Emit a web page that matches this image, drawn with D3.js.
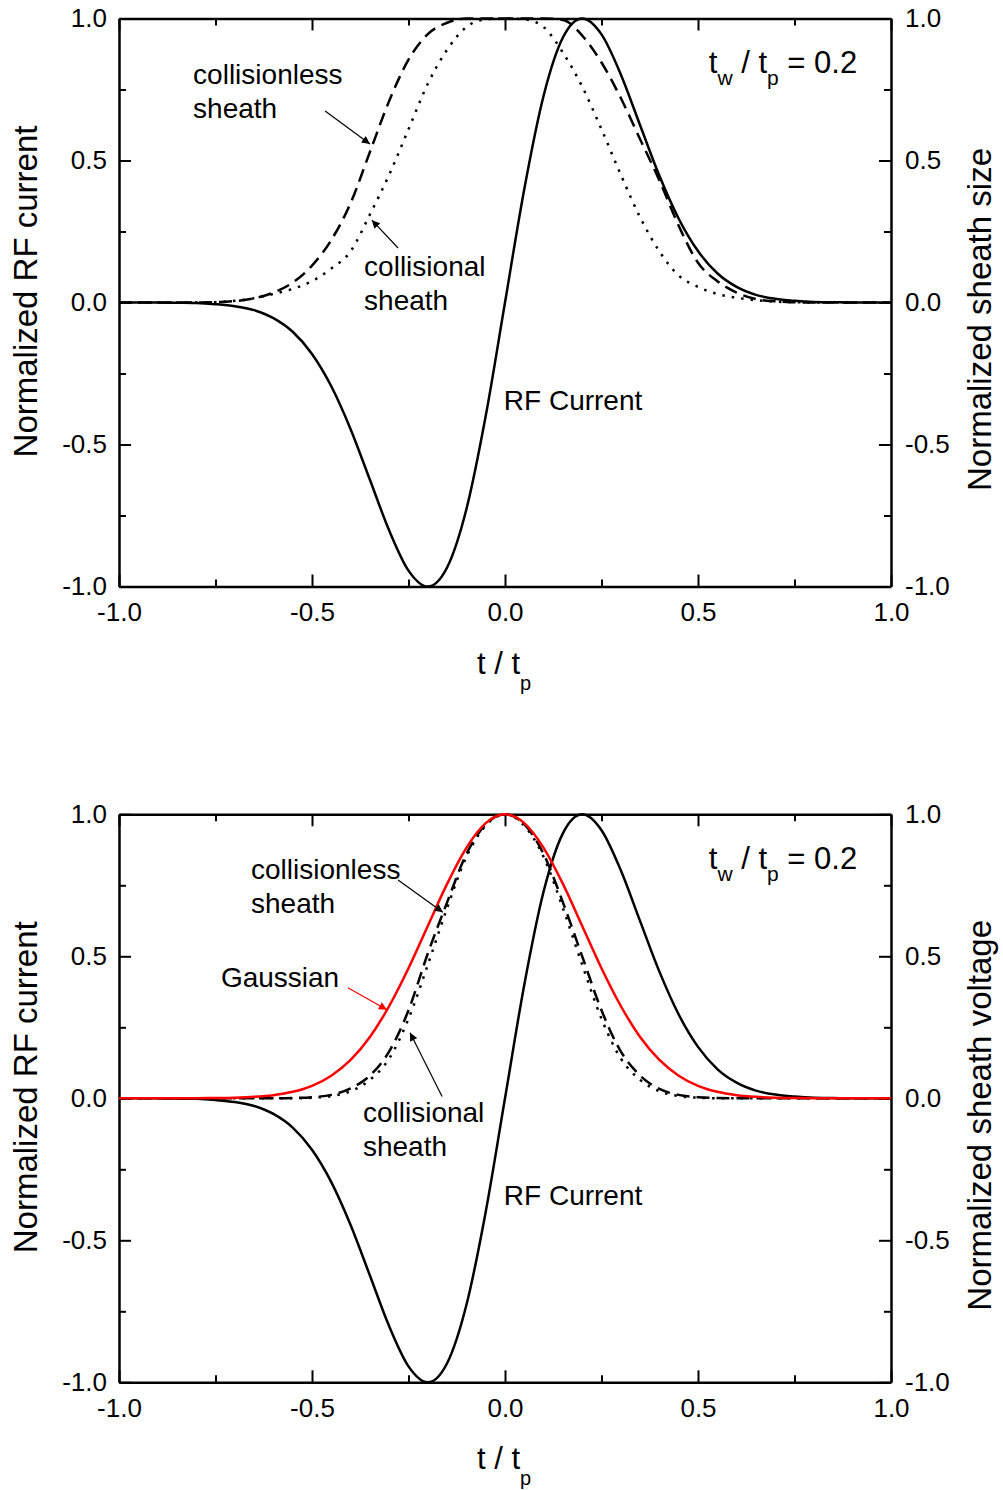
<!DOCTYPE html>
<html lang="en">
  <head>
    <meta charset="UTF-8" />
    <title>Normalized RF current and sheath response</title>
    <script src="https://d3js.org/d3.v7.min.js"></script>
    <style>
      body { margin: 0; background: #fff; }
      text { font-family: "Liberation Sans", Arial, sans-serif; fill: #000; }
    </style>
  </head>
  <body>
    <svg id="chart" width="1003" height="1490"></svg>
    <script>
      // t / tp sample points
      const tValues = [
        -1.0, -0.95, -0.9, -0.85, -0.8, -0.75, -0.7, -0.65, -0.6, -0.55, -0.5,
        -0.45, -0.4, -0.35, -0.3, -0.25, -0.2, -0.15, -0.1, -0.05, 0.0,
        0.05, 0.1, 0.15, 0.2, 0.25, 0.3, 0.35, 0.4, 0.45, 0.5,
        0.55, 0.6, 0.65, 0.7, 0.75, 0.8, 0.85, 0.9, 0.95, 1.0,
      ];

      // normalized RF current (same in both panels)
      const rfCurrent = [
        0, 0, 0, -0.001, -0.002, -0.006, -0.013, -0.027, -0.055, -0.103, -0.181,
        -0.295, -0.446, -0.624, -0.803, -0.944, -1.0, -0.933, -0.728, -0.4, 0,
        0.4, 0.728, 0.933, 1.0, 0.944, 0.803, 0.624, 0.446, 0.295, 0.181,
        0.103, 0.055, 0.027, 0.013, 0.006, 0.002, 0.001, 0, 0, 0,
      ];

      // top panel: normalized sheath size
      const sizeCollisionless = [
        0, 0, 0, 0, 0, 0.001, 0.005, 0.015, 0.035, 0.07, 0.13,
        0.22, 0.35, 0.53, 0.71, 0.855, 0.945, 0.985, 1.0, 1.0, 1.0,
        1.0, 1.0, 0.995, 0.94, 0.845, 0.72, 0.575, 0.43, 0.27, 0.14,
        0.075, 0.035, 0.012, 0.004, 0.001, 0, 0, 0, 0, 0,
      ];
      const sizeCollisional = [
        0, 0, 0, 0, 0, 0.001, 0.006, 0.015, 0.03, 0.048, 0.075,
        0.12, 0.18, 0.31, 0.45, 0.61, 0.77, 0.89, 0.97, 0.997, 1.0,
        0.997, 0.97, 0.88, 0.76, 0.61, 0.45, 0.3, 0.18, 0.095, 0.055,
        0.03, 0.017, 0.008, 0.003, 0.001, 0, 0, 0, 0, 0,
      ];

      // bottom panel: normalized sheath voltage
      const voltageGaussian = [
        0, 0, 0, 0, 0.0003, 0.0009, 0.0022, 0.0051, 0.0111, 0.0228, 0.044,
        0.0796, 0.135, 0.216, 0.325, 0.458, 0.607, 0.755, 0.882, 0.969, 1.0,
        0.969, 0.882, 0.755, 0.607, 0.458, 0.325, 0.216, 0.135, 0.0796, 0.044,
        0.0228, 0.0111, 0.0051, 0.0022, 0.0009, 0.0003, 0, 0, 0, 0,
      ];
      const voltageCollisionless = [
        0, 0, 0, 0, 0, 0, 0, 0, 0, 0.001, 0.004,
        0.012, 0.035, 0.08, 0.165, 0.31, 0.51, 0.69, 0.86, 0.965, 1.0,
        0.965, 0.86, 0.69, 0.5, 0.31, 0.165, 0.08, 0.033, 0.012, 0.004,
        0.001, 0, 0, 0, 0, 0, 0, 0, 0, 0,
      ];
      const voltageCollisional = [
        0, 0, 0, 0, 0, 0, 0, 0, 0, 0, 0.002,
        0.008, 0.025, 0.065, 0.14, 0.28, 0.47, 0.67, 0.85, 0.96, 1.0,
        0.96, 0.85, 0.67, 0.47, 0.28, 0.14, 0.065, 0.025, 0.008, 0.002,
        0, 0, 0, 0, 0, 0, 0, 0, 0, 0,
      ];

      const xTicks = [-1, -0.5, 0, 0.5, 1];
      const xMinorTicks = [-0.75, -0.25, 0.25, 0.75];
      const yTicks = [-1, -0.5, 0, 0.5, 1];
      const yMinorTicks = [-0.75, -0.25, 0.25, 0.75];
      const tickLabels = ["-1.0", "-0.5", "0.0", "0.5", "1.0"];

      const svg = d3.select("#chart");

      // arrow heads
      const defs = svg.append("defs");
      [["arrowBlack", "#000"], ["arrowRed", "#f00"]].forEach(([id, c]) => {
        defs
          .append("marker")
          .attr("id", id)
          .attr("viewBox", "0 0 10 10")
          .attr("refX", 10)
          .attr("refY", 5)
          .attr("markerUnits", "userSpaceOnUse")
          .attr("markerWidth", 12)
          .attr("markerHeight", 8)
          .attr("orient", "auto")
          .append("path")
          .attr("d", "M0,0L10,5L0,10z")
          .attr("fill", c);
      });

      function drawPanel(top, cfg) {
        const left = 119,
          right = 891,
          bottom = top + 568;

        const x = d3.scaleLinear().domain([-1, 1]).range([left, right]);
        const y = d3.scaleLinear().domain([-1, 1]).range([bottom, top]);

        const g = svg.append("g");
        const fmt = (d, i) => tickLabels[i];

        function axis(gen, pos, scale, ticks, size, labels, pad) {
          const a = gen(scale)
            .tickValues(ticks)
            .tickSize(-size)
            .tickSizeOuter(0)
            .tickPadding(pad || 0)
            .tickFormat(labels ? fmt : "");
          const sel = g.append("g").attr("transform", pos).call(a);
          sel.selectAll("line").attr("stroke", "#000").attr("stroke-width", 2);
          sel.select(".domain").attr("stroke", "#000").attr("stroke-width", 2.5);
          sel.selectAll("text").attr("font-size", 26).attr("fill", "#000")
            .attr("font-family", '"Liberation Sans", Arial, sans-serif');
          return sel;
        }

        axis(d3.axisBottom, `translate(0,${bottom})`, x, xTicks, 12, true, 16);
        axis(d3.axisBottom, `translate(0,${bottom})`, x, xMinorTicks, 7, false).select(".domain").remove();
        axis(d3.axisTop, `translate(0,${top})`, x, xTicks, 12, false);
        axis(d3.axisTop, `translate(0,${top})`, x, xMinorTicks, 7, false).select(".domain").remove();
        axis(d3.axisLeft, `translate(${left},0)`, y, yTicks, 12, true, 12);
        axis(d3.axisLeft, `translate(${left},0)`, y, yMinorTicks, 7, false).select(".domain").remove();
        axis(d3.axisRight, `translate(${right},0)`, y, yTicks, 12, true, 14);
        axis(d3.axisRight, `translate(${right},0)`, y, yMinorTicks, 7, false).select(".domain").remove();

        // curves
        const line = (vals) =>
          d3
            .line()
            .x((d, i) => x(tValues[i]))
            .y((d) => y(d))
            .curve(d3.curveMonotoneX)(vals);

        cfg.series.forEach((s) => {
          g.append("path")
            .attr("d", line(s.values))
            .attr("fill", "none")
            .attr("stroke", s.color || "#000")
            .attr("stroke-width", 2.5)
            .attr("stroke-dasharray", s.dash || null);
        });

        // axis titles
        g.append("text")
          .attr("transform", `translate(37,${top + 273}) rotate(-90)`)
          .attr("text-anchor", "middle")
          .attr("font-size", 33)
          .text("Normalized RF current");
        g.append("text")
          .attr("transform", `translate(991,${top + 301}) rotate(-90)`)
          .attr("text-anchor", "middle")
          .attr("font-size", 33)
          .text(cfg.rightTitle);

        const xt = g.append("text")
          .attr("x", 477)
          .attr("y", top + 655)
          .attr("font-size", 31);
        xt.append("tspan").text("t / t");
        xt.append("tspan").attr("dy", 16).attr("font-size", 20).text("p");

        // ratio label
        const rl = g.append("text")
          .attr("x", x(0.528))
          .attr("y", y(0.807))
          .attr("font-size", 31);
        rl.append("tspan").text("t");
        rl.append("tspan").attr("dy", 12).attr("font-size", 21).text("w");
        rl.append("tspan").attr("dy", -12).text(" / t");
        rl.append("tspan").attr("dy", 12).attr("font-size", 21).text("p");
        rl.append("tspan").attr("dy", -12).text(" = 0.2");

        // annotations
        cfg.notes.forEach((n) => {
          const tx = g.append("text")
            .attr("x", x(n.x))
            .attr("y", y(n.y))
            .attr("font-size", 28)
            .attr("fill", n.color || "#000");
          n.lines.forEach((l, i) => {
            tx.append("tspan")
              .attr("x", x(n.x))
              .attr("dy", i === 0 ? 0 : 34)
              .text(l);
          });
        });
        cfg.arrows.forEach((a) => {
          g.append("line")
            .attr("x1", x(a.from[0]))
            .attr("y1", y(a.from[1]))
            .attr("x2", x(a.to[0]))
            .attr("y2", y(a.to[1]))
            .attr("stroke", a.color || "#000")
            .attr("stroke-width", 1.2)
            .attr("marker-end", a.color ? "url(#arrowRed)" : "url(#arrowBlack)");
        });
      }

      drawPanel(18.5, {
        rightTitle: "Normalized sheath size",
        series: [
          { values: sizeCollisionless, dash: "13,7" },
          { values: sizeCollisional, dash: "2.5,7" },
          { values: rfCurrent },
        ],
        notes: [
          { x: -0.808, y: 0.77, lines: ["collisionless", "sheath"] },
          { x: -0.365, y: 0.093, lines: ["collisional", "sheath"] },
          { x: -0.003, y: -0.379, lines: ["RF Current"] },
        ],
        arrows: [
          { from: [-0.466, 0.674], to: [-0.35, 0.558] },
          { from: [-0.277, 0.192], to: [-0.345, 0.29] },
        ],
      });

      drawPanel(814.3, {
        rightTitle: "Normalized sheath voltage",
        series: [
          { values: voltageCollisionless, dash: "13,7" },
          { values: voltageCollisional, dash: "2.5,7" },
          { values: rfCurrent },
          { values: voltageGaussian, color: "#f00" },
        ],
        notes: [
          { x: -0.658, y: 0.773, lines: ["collisionless", "sheath"] },
          { x: -0.736, y: 0.393, lines: ["Gaussian"], color: "#f00" },
          { x: -0.368, y: -0.082, lines: ["collisional", "sheath"] },
          { x: -0.003, y: -0.376, lines: ["RF Current"] },
        ],
        arrows: [
          { from: [-0.277, 0.769], to: [-0.161, 0.655] },
          { from: [-0.407, 0.389], to: [-0.306, 0.312], color: "#f00" },
          { from: [-0.163, 0.006], to: [-0.246, 0.231] },
        ],
      });
    </script>
  </body>
</html>
